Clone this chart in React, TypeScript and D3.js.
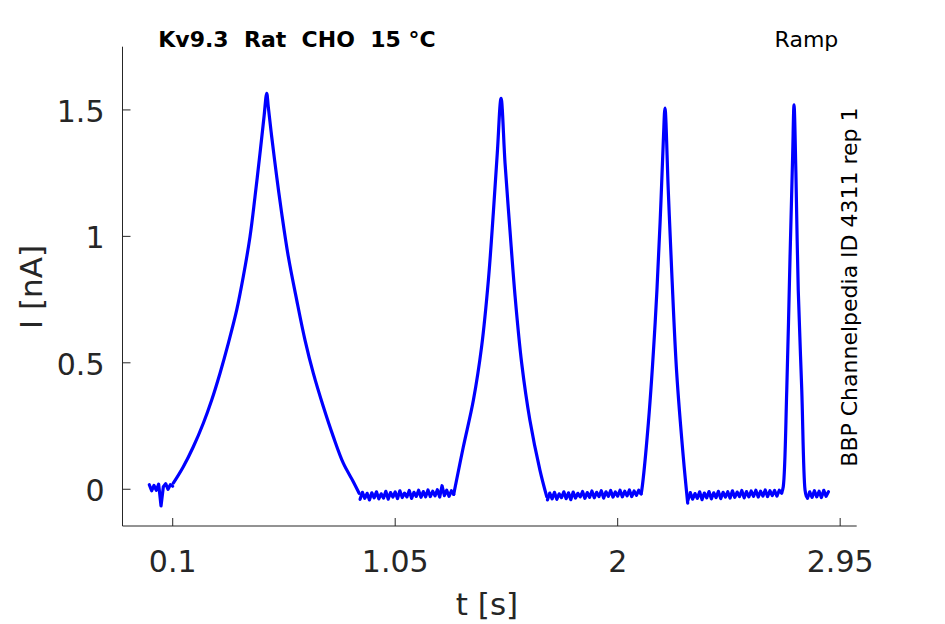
import * as d3 from 'd3';

// sampled trace (t in s, I in nA), read from the recording
const baseStep = 0.01;

const restStart = 0;
const restValues = [0.018, -0.006, 0.015, -0.004, 0.020, -0.066, 0.010, 0.022, 0.000, 0.018, 0.012];

const ramp1: [number, number][] = [
  [0.1026, 0.024], [0.1453, 0.089], [0.188, 0.168], [0.2307, 0.261], [0.2665, 0.353],
  [0.302, 0.459], [0.3374, 0.577], [0.3733, 0.709], [0.4014, 0.841], [0.4301, 0.999],
  [0.4514, 1.157], [0.4728, 1.329], [0.4899, 1.473], [0.5014, 1.566],
  [0.508, 1.513], [0.5227, 1.394], [0.5441, 1.236], [0.5654, 1.091], [0.5936, 0.920],
  [0.6295, 0.748], [0.6649, 0.590], [0.7003, 0.459], [0.743, 0.327], [0.7857, 0.208],
  [0.8284, 0.103], [0.8711, 0.030], [0.8960, -0.016],
];

const gap1Start = 0.9;
const gap1Values = [
  -0.040, -0.012, -0.036, -0.016, -0.042, -0.014, -0.034, -0.010, -0.038, -0.018,
  -0.035, -0.008, -0.039, -0.013, -0.031, -0.011, -0.037, -0.006, -0.033, -0.015,
  -0.030, -0.005, -0.036, -0.012, -0.028, -0.004, -0.032, -0.009, -0.030, -0.003,
  -0.029, -0.008, -0.026, -0.002, -0.031, 0.014, -0.025, -0.004, -0.028, -0.006,
  -0.020,
];

const ramp2: [number, number][] = [
  [1.30, -0.020], [1.305, 0.004], [1.341, 0.168], [1.384, 0.353], [1.419, 0.564], [1.448, 0.828],
  [1.469, 1.093], [1.486, 1.330], [1.502, 1.546], [1.519, 1.290], [1.540, 1.025],
  [1.562, 0.762], [1.590, 0.499], [1.625, 0.274], [1.668, 0.076], [1.697, -0.029],
];

const gap2Start = 1.7;
const gap2Values = [
  -0.042, -0.015, -0.038, -0.012, -0.040, -0.018, -0.033, -0.010, -0.037, -0.014,
  -0.041, -0.011, -0.035, -0.016, -0.030, -0.009, -0.036, -0.013, -0.032, -0.007,
  -0.034, -0.012, -0.029, -0.006, -0.035, -0.010, -0.028, -0.005, -0.031, -0.011,
  -0.027, -0.004, -0.030, -0.008, -0.026, -0.003, -0.029, -0.007, -0.024, -0.004,
  -0.018,
];

const ramp3: [number, number][] = [
  [2.10, -0.018], [2.103, -0.003], [2.131, 0.262], [2.160, 0.658], [2.181, 1.053], [2.195, 1.381],
  [2.202, 1.507], [2.216, 1.183], [2.231, 0.855], [2.252, 0.460], [2.280, 0.129],
  [2.299, -0.055],
];

const gap3Start = 2.3;
const gap3Values = [
  -0.044, -0.013, -0.039, -0.017, -0.036, -0.010, -0.041, -0.015, -0.034, -0.009,
  -0.038, -0.014, -0.033, -0.008, -0.037, -0.012, -0.031, -0.010, -0.035, -0.006,
  -0.032, -0.011, -0.029, -0.005, -0.034, -0.009, -0.030, -0.007, -0.028, -0.004,
  -0.031, -0.008, -0.027, -0.003, -0.029, -0.006, -0.025, -0.005, -0.027, -0.004,
  -0.015,
];

const ramp4: [number, number][] = [
  [2.70, -0.015], [2.707, 0.010], [2.722, 0.393], [2.736, 0.920], [2.747, 1.315], [2.753, 1.520],
  [2.761, 1.251], [2.771, 0.788], [2.786, 0.393], [2.800, -0.003], [2.806, -0.029],
];

const tailStart = 2.81;
const tailValues = [-0.036, -0.010, -0.032, -0.006, -0.030, -0.008, -0.033, -0.004, -0.028, -0.010];

const xTicks = [0.1, 1.05, 2, 2.95];
const yTicks = [0, 0.5, 1, 1.5];

const width = 945;
const height = 624;
const axisColor = '#262626';
const font = 'DejaVu Sans, sans-serif';

function sampled(start: number, values: number[]): [number, number][] {
  return values.map((v, i) => [start + i * baseStep, v]);
}

// flat (noisy) stretches drawn straight, ramps drawn smooth
const flats = [
  sampled(restStart, restValues),
  sampled(gap1Start, gap1Values),
  sampled(gap2Start, gap2Values),
  sampled(gap3Start, gap3Values),
  sampled(tailStart, tailValues),
];
const ramps = [ramp1, ramp2, ramp3, ramp4];

export default function App() {
  const x = d3.scaleLinear().domain([-0.1144, 3.0206]).range([122.5, 856.7]);
  const y = d3.scaleLinear().domain([-0.1453, 1.75]).range([526, 46.7]);

  const flatLine = d3.line<[number, number]>()
    .x((d) => x(d[0]))
    .y((d) => y(d[1]));
  const rampLine = d3.line<[number, number]>()
    .x((d) => x(d[0]))
    .y((d) => y(d[1]))
    .curve(d3.curveCatmullRom.alpha(0.5));

  const [x0, x1] = x.range();
  const [y0, y1] = y.range();

  return (
    <div style={{ position: 'absolute', left: 0, top: 0 }}>
      <svg width={width} height={height} style={{ display: 'block', background: '#fff' }}>
        <g fill="none" stroke="#0000ff" strokeWidth={3.2} strokeLinejoin="round" strokeLinecap="round">
          {flats.map((seg, i) => (
            <path key={`f${i}`} d={flatLine(seg) ?? ''} />
          ))}
          {ramps.map((seg, i) => (
            <path key={`r${i}`} d={rampLine(seg) ?? ''} />
          ))}
        </g>

        {/* axes */}
        <line x1={x0} x2={x0} y1={y0} y2={y1} stroke={axisColor} strokeWidth={1} />
        <line x1={x0} x2={x1} y1={y0} y2={y0} stroke={axisColor} strokeWidth={1} />

        {yTicks.map((t) => (
          <g key={`y${t}`}>
            <line x1={x0} x2={x0 + 8} y1={y(t)} y2={y(t)} stroke={axisColor} />
            <text x={104.5} y={y(t) + 12} textAnchor="end" fontFamily={font} fontSize={30} fill={axisColor}>
              {t}
            </text>
          </g>
        ))}

        {xTicks.map((t) => (
          <g key={`x${t}`}>
            <line x1={x(t)} x2={x(t)} y1={y0} y2={y0 - 8} stroke={axisColor} />
            <text x={x(t)} y={572} textAnchor="middle" fontFamily={font} fontSize={30} fill={axisColor}>
              {t}
            </text>
          </g>
        ))}

        <text x={487} y={615} textAnchor="middle" fontFamily={font} fontSize={31} fill={axisColor}>
          t [s]
        </text>
        <text
          transform="translate(42, 287) rotate(-90)"
          textAnchor="middle"
          fontFamily={font}
          fontSize={31}
          fill={axisColor}
        >
          I [nA]
        </text>

        <text x={158.3} y={47.3} fontFamily={font} fontSize={22} fontWeight="bold" fill="#000" style={{ whiteSpace: 'pre' }}>
          {'Kv9.3  Rat  CHO  15 °C'}
        </text>
        <text x={838.3} y={46.7} textAnchor="end" fontFamily={font} fontSize={22} fill="#000">
          Ramp
        </text>
        <text
          transform="translate(857, 466.7) rotate(-90)"
          fontFamily={font}
          fontSize={22}
          fill="#000"
        >
          BBP Channelpedia ID 4311 rep 1
        </text>
      </svg>
    </div>
  );
}
